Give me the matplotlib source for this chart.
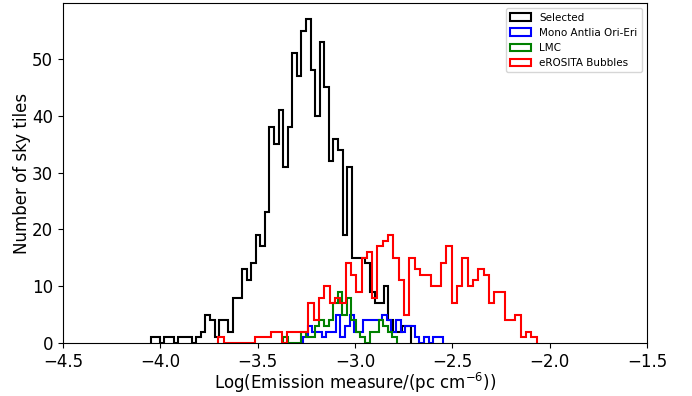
import numpy as np
import matplotlib
matplotlib.use("Agg")
import matplotlib.pyplot as plt

# Histogram counts per bin, with the range each histogram covers
selected_range = (-4.0496, -2.7116)
selected_counts = [1, 1, 0, 1, 1, 0, 1, 1, 1, 0,
                   1, 2, 5, 4, 1, 4, 4, 2, 8, 8,
                   13, 11, 14, 19, 17, 23, 38, 35, 41, 31,
                   38, 51, 47, 55, 57, 48, 40, 53, 45, 32,
                   36, 34, 19, 31, 15, 15, 15, 14, 9, 7,
                   7, 10, 4, 2, 2, 3, 3]

mono_range = (-3.2673, -2.5498)
mono_counts = [1, 3, 2, 2, 1, 2, 2, 5, 1, 3,
               5, 2, 2, 4, 4, 4, 4, 5, 4, 2,
               4, 2, 3, 3, 1, 0, 1, 0, 1, 1]

lmc_range = (-3.370, -2.7845)
lmc_counts = [1, 0, 0, 0, 2, 1, 1, 3, 4, 3,
              4, 7, 9, 5, 8, 4, 2, 1, 0, 2,
              2, 4, 3, 2, 1]

bubbles_range = (-3.7024, -2.067)
bubbles_counts = [1, 0, 0, 0, 0, 0, 0, 1, 1, 1,
                  2, 2, 0, 2, 2, 2, 2, 7, 4, 8,
                  10, 7, 8, 7, 14, 12, 9, 15, 16, 8,
                  17, 18, 19, 15, 11, 5, 15, 13, 12, 12,
                  10, 10, 14, 17, 7, 10, 15, 10, 11, 13,
                  12, 7, 9, 9, 4, 4, 5, 1, 2, 1]

series = [
    ("Selected", selected_range, selected_counts, "black"),
    ("Mono Antlia Ori-Eri", mono_range, mono_counts, "blue"),
    ("LMC", lmc_range, lmc_counts, "green"),
    ("eROSITA Bubbles", bubbles_range, bubbles_counts, "red"),
]

fig = plt.figure(figsize=(6.92, 3.96), dpi=100)
ax = fig.add_axes([0.091, 0.134, 0.844, 0.858])

for label, (lo, hi), counts, color in series:
    counts = np.asarray(counts, dtype=float)
    edges = np.linspace(lo, hi, len(counts) + 1)
    centers = 0.5 * (edges[:-1] + edges[1:])
    ax.hist(centers, bins=edges, weights=counts, histtype="step",
            color=color, linewidth=1.5, label=label)

ax.set_xlim(-4.5, -1.5)
ax.set_ylim(0, 57 * 1.05)
ax.set_xticks(np.arange(-4.5, -1.49, 0.5))
ax.set_yticks(np.arange(0, 51, 10))
ax.tick_params(labelsize=12)
ax.set_xlabel(r"Log(Emission measure/(pc cm$^{-6}$))", fontsize=12, labelpad=0)
ax.set_ylabel("Number of sky tiles", fontsize=12, labelpad=1)
ax.legend(loc="upper right", fontsize=7.5)

fig.savefig("out.png", dpi=100)
